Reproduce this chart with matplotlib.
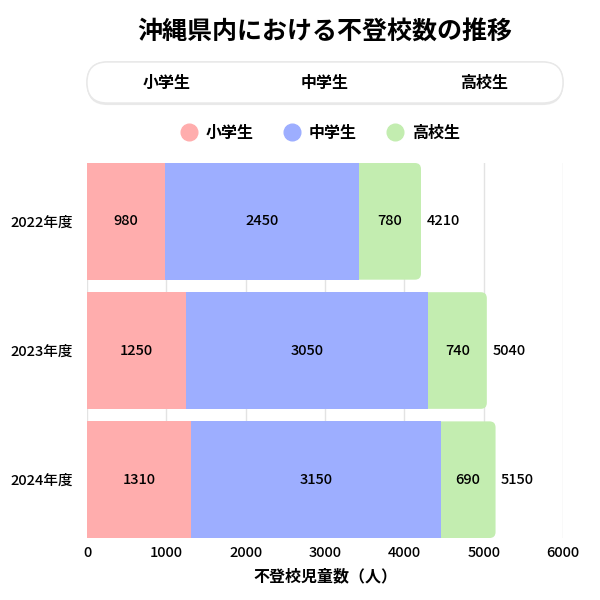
import matplotlib.pyplot as plt
import matplotlib.patheffects as pe
from matplotlib.lines import Line2D
from matplotlib.patches import FancyBboxPatch

plt.rcParams['font.family'] = ['Noto Sans CJK JP', 'DejaVu Sans']

# data
years = ["2022年度", "2023年度", "2024年度"]
groups = ["小学生", "中学生", "高校生"]
elementary = [980, 1250, 1310]
junior_high = [2450, 3050, 3150]
high_school = [780, 740, 690]
totals = [4210, 5040, 5150]
x_ticks = [0, 1000, 2000, 3000, 4000, 5000, 6000]

colors = ["#FFADAD", "#9DAEFF", "#C3EDB0"]

fig = plt.figure(figsize=(6, 6), dpi=100)
ax_w, ax_h = 0.7933, 0.625
ax = fig.add_axes([0.145, 0.1033, ax_w, ax_h])

h = 0.903
ypos = list(range(len(years)))
x_max = 6000

# elementary + junior high as plain bars
ax.barh(ypos, elementary, height=h, color=colors[0], zorder=3)
ax.barh(ypos, junior_high, left=elementary, height=h, color=colors[1], zorder=3)

# high school segment gets rounded right corners
px_per_x = ax_w * 600 / x_max
px_per_y = ax_h * 600 / (len(years) - 1 + h)
aspect = (1 / px_per_y) / (1 / px_per_x)
r = 6 / px_per_x
for y, e, j, s in zip(ypos, elementary, junior_high, high_school):
    left = e + j
    box = FancyBboxPatch((left - r, y - h / 2), s + r, h,
                         boxstyle=f"round,pad=0,rounding_size={r}",
                         mutation_aspect=aspect, facecolor=colors[2],
                         edgecolor="none", zorder=2)
    ax.add_patch(box)

# value labels
for y, e, j, s, t in zip(ypos, elementary, junior_high, high_school, totals):
    ax.text(e / 2, y, str(e), ha="center", va="center", fontsize=10.5, fontweight="medium", zorder=5)
    ax.text(e + j / 2, y, str(j), ha="center", va="center", fontsize=10.5, fontweight="medium", zorder=5)
    ax.text(e + j + s / 2, y, str(s), ha="center", va="center", fontsize=10.5, fontweight="medium", zorder=5)
    ax.annotate(str(t), (e + j + s, y), xytext=(4, 0), textcoords="offset points",
                ha="left", va="center", fontsize=10.5, fontweight="medium")

ax.set_xlim(0, x_max)
ax.set_ylim(len(years) - 1 + h / 2, -h / 2)
ax.set_xticks(x_ticks)
ax.set_xticklabels([str(v) for v in x_ticks], fontsize=10.5, fontweight="medium")
ax.set_yticks(ypos)
ax.set_yticklabels(years, fontsize=10.5, fontweight="medium")
ax.tick_params(axis="x", length=0, pad=6)
ax.tick_params(axis="y", length=0, pad=10)
ax.grid(axis="x", color="#e3e3e3", lw=1)
ax.set_axisbelow(True)
for sp in ax.spines.values():
    sp.set_visible(False)
ax.set_xlabel("不登校児童数（人）", fontsize=11.5, fontweight="bold", labelpad=6)

# title
fig.text(325 / 600, 1 - 32 / 600, "沖縄県内における不登校数の推移",
         ha="center", va="center", fontsize=18, fontweight="bold")

# tab bar
tab = FancyBboxPatch((87 / 600, 1 - 103 / 600), 476 / 600, 41 / 600,
                     boxstyle="round,pad=0,rounding_size=0.034",
                     transform=fig.transFigure, facecolor="white",
                     edgecolor="#e8e8e8", lw=1)
tab.set_path_effects([pe.withSimplePatchShadow(offset=(0, -1.5), shadow_rgbFace="#aaaaaa", alpha=0.25),
                      pe.Normal()])
fig.patches.append(tab)
for i, g in enumerate(groups):
    cx = (87 + 476 / 6 * (2 * i + 1)) / 600
    fig.text(cx, 1 - 83 / 600, g, ha="center", va="center", fontsize=11.5, fontweight="bold")

# legend
handles = [Line2D([], [], ls="none", marker="o", markersize=12, color=c) for c in colors]
leg = fig.legend(handles, groups, loc="center", bbox_to_anchor=(320.5 / 600, 1 - 133 / 600),
                 ncol=3, frameon=False, handlelength=1.0, handletextpad=0.55,
                 columnspacing=1.9, prop={"size": 11.5, "weight": "bold"})

fig.savefig("out.png", dpi=100)
